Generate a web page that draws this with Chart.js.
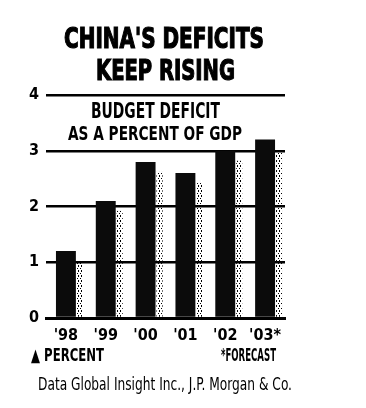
<!DOCTYPE html>
<html>
<head>
<meta charset="utf-8">
<script src="https://cdn.jsdelivr.net/npm/chart.js@4.4.0/dist/chart.umd.min.js"></script>
<style>
  html, body { margin: 0; padding: 0; background: #fff; }
  #wrap { position: relative; width: 366px; height: 408px; overflow: hidden; }
  #c { position: absolute; left: 0; top: 0; }
  .lbl {
    position: absolute; white-space: nowrap; line-height: 1; color: #000;
    font-family: "Liberation Sans Narrow", "DejaVu Sans Condensed", "Liberation Sans", sans-serif;
    font-weight: bold; transform-origin: 0 0;
  }
  .heavy { -webkit-text-stroke: 1.2px #000; }
  .thin { font-weight: normal; }
</style>
</head>
<body>
<div id="wrap">
  <canvas id="c" width="366" height="408"></canvas>
  <div class="lbl heavy" data-box="64,264,28,21">CHINA'S DEFICITS</div>
  <div class="lbl heavy" data-box="96,235,60,21">KEEP RISING</div>
  <div class="lbl" data-box="91,220,104,15">BUDGET DEFICIT</div>
  <div class="lbl" data-box="68,242,127,14">AS A PERCENT OF GDP</div>
  <div class="lbl" data-box="31,104,348,13">▲ PERCENT</div>
  <div class="lbl" data-box="221,276,348,13">*FORECAST</div>
  <div class="lbl thin" data-box="38,292,377,13">Data Global Insight Inc., J.P. Morgan &amp; Co.</div>
</div>
<script>
const years = ["'98", "'99", "'00", "'01", "'02", "'03*"]
const deficit = [1.2, 2.1, 2.8, 2.6, 3.0, 3.2]
const yTicks = [0, 1, 2, 3, 4]

const tickFont = {family: '"Liberation Sans Narrow", "DejaVu Sans Condensed", sans-serif', size: 16, weight: 'bold'}

// place the html labels: cap height -> font size, then squeeze to the box width
document.querySelectorAll('.lbl').forEach(el => {
  const [x0, x1, capTop, capH] = el.dataset.box.split(',').map(Number)
  const fs = capH / 0.72
  el.style.fontSize = fs + 'px'
  el.style.top = (capTop - 0.13 * fs) + 'px'
  el.style.left = x0 + 'px'
  const w = el.getBoundingClientRect().width
  el.style.transform = 'scaleX(' + ((x1 - x0) / w) + ')'
})

// dotted shadow strip on the right side of each bar
const shadow = {
  id: 'shadow',
  beforeDatasetsDraw(chart) {
    const ctx = chart.ctx
    const tile = document.createElement('canvas')
    tile.width = 3; tile.height = 5
    const t = tile.getContext('2d')
    t.fillStyle = '#000'
    t.fillRect(0, 0, 1, 2)
    t.fillRect(2, 3, 1, 1)
    const pat = ctx.createPattern(tile, 'repeat')
    const meta = chart.getDatasetMeta(0)
    ctx.save()
    ctx.fillStyle = pat
    meta.data.forEach(bar => {
      const x = bar.x + bar.width / 2 + 1
      ctx.fillRect(x, bar.y + 10, 6, bar.base - bar.y - 10)
    })
    ctx.restore()
  }
}

new Chart(document.getElementById('c'), {
  type: 'bar',
  data: {
    labels: years,
    datasets: [{
      data: deficit,
      backgroundColor: '#0b0b0b',
      categoryPercentage: 1,
      barPercentage: 0.5
    }]
  },
  options: {
    responsive: false,
    animation: false,
    layout: {padding: {left: 0, right: 81, top: 95, bottom: 64}},
    plugins: {legend: {display: false}, tooltip: {enabled: false}},
    scales: {
      x: {
        grid: {display: false},
        border: {display: true, color: '#000', width: 3},
        ticks: {color: '#000', font: tickFont, padding: 0, maxRotation: 0},
        afterFit: s => { s.height = 26 }
      },
      y: {
        min: 0, max: 4,
        afterBuildTicks: s => { s.ticks = yTicks.map(v => ({value: v})) },
        grid: {color: '#000', lineWidth: 2.5, drawTicks: false},
        border: {display: false},
        ticks: {color: '#000', font: tickFont, padding: 7},
        afterFit: s => { s.width = 46 }
      }
    }
  },
  plugins: [shadow]
})
</script>
</body>
</html>
